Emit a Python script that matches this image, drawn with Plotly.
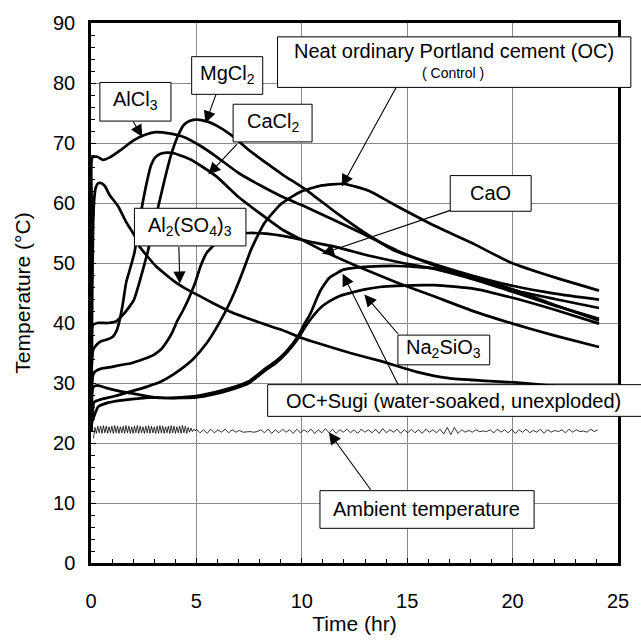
import numpy as np
import plotly.graph_objects as go

# ---------------- data ----------------
alcl3_t = [0.0, 0.03, 0.06, 0.3, 0.55, 0.9, 1.4, 2.0, 2.6, 3.07, 3.7, 4.4, 5.2, 5.96, 7.0, 8.0, 9.1, 10.1, 11.5, 13.0, 14.5, 16.3, 18.2, 20.0, 22.0, 24.1]
alcl3_T = [22.0, 60.0, 67.6, 67.7, 67.2, 67.6, 68.8, 70.4, 71.4, 71.8, 71.6, 71.0, 69.5, 67.7, 65.0, 63.0, 61.0, 59.5, 57.2, 54.7, 52.1, 49.6, 47.3, 45.5, 44.0, 42.5]

mgcl2_t = [0.0, 0.04, 0.08, 0.3, 0.8, 1.2, 1.5, 1.8, 2.03, 2.3, 2.68, 3.0, 3.23, 3.5, 3.78, 4.1, 4.4, 4.7, 5.02, 5.5, 5.96, 6.74, 7.5, 8.46, 9.1, 10.2, 11.66, 13.0, 14.5, 16.3, 18.2, 20.0, 22.0, 24.1]
mgcl2_T = [22.0, 36.0, 39.6, 40.0, 40.0, 40.3, 41.3, 42.6, 43.8, 46.8, 51.7, 56.5, 60.0, 64.0, 67.8, 71.0, 73.0, 73.7, 73.9, 73.6, 72.9, 71.1, 68.8, 66.3, 64.7, 62.2, 58.3, 55.0, 51.9, 49.8, 47.8, 46.2, 44.9, 43.9]

cacl2_t = [0.0, 0.04, 0.1, 0.3, 0.5, 0.8, 1.03, 1.2, 1.34, 1.5, 1.67, 1.85, 2.06, 2.25, 2.45, 2.65, 2.84, 3.05, 3.3, 3.6, 3.93, 4.7, 5.3, 5.96, 7.0, 8.0, 9.1, 10.1, 11.2, 12.8, 14.47, 16.3, 18.2, 20.0, 22.0, 24.1]
cacl2_T = [22.0, 33.0, 35.5, 36.5, 37.0, 37.3, 37.7, 38.6, 40.2, 43.0, 46.8, 49.0, 51.7, 56.0, 60.0, 63.5, 66.2, 67.6, 68.2, 68.4, 68.3, 67.3, 66.0, 64.4, 61.0, 58.3, 55.5, 53.7, 51.7, 49.2, 46.8, 44.4, 41.9, 39.9, 37.9, 36.0]

cao_t = [0.0, 0.04, 0.1, 0.2, 0.48, 1.0, 1.42, 1.9, 2.5, 2.98, 3.35, 3.6, 3.85, 4.07, 4.35, 4.6, 4.95, 5.2, 5.49, 5.96, 6.4, 6.74, 7.5, 8.3, 9.3, 10.6, 11.7, 13.2, 14.5, 16.3, 18.2, 20.0, 22.0, 24.1]
cao_T = [22.0, 29.0, 31.3, 31.9, 32.4, 32.7, 33.0, 33.3, 34.0, 34.7, 35.7, 36.9, 38.4, 40.2, 42.0, 43.8, 46.8, 49.5, 51.7, 53.4, 54.3, 54.8, 55.0, 54.9, 54.4, 53.4, 52.6, 51.2, 50.2, 49.0, 47.2, 45.2, 42.9, 40.7]

al2so43_t = [0.0, 0.06, 0.1, 0.15, 0.22, 0.34, 0.5, 0.66, 0.89, 1.28, 1.67, 2.06, 2.29, 2.7, 3.07, 3.5, 4.0, 4.5, 5.1, 5.8, 6.67, 7.9, 9.0, 10.0, 10.7, 12.3, 13.8, 15.4, 16.96, 18.5, 20.1, 22.0, 24.1]
al2so43_T = [22.0, 45.0, 56.0, 60.5, 62.5, 63.3, 63.3, 62.8, 61.3, 59.5, 56.8, 54.6, 52.8, 51.0, 49.5, 48.2, 46.8, 45.7, 44.6, 43.3, 41.8, 40.2, 38.9, 37.5, 36.7, 35.0, 33.6, 31.9, 30.8, 30.4, 30.1, 29.5, 29.0]

oc_t = [0.0, 0.05, 0.15, 0.5, 1.1, 1.9, 2.67, 3.3, 3.76, 4.3, 4.85, 5.5, 6.1, 6.6, 6.97, 7.3, 7.6, 8.2, 9.0, 9.9, 10.9, 12.0, 13.2, 14.5, 16.3, 18.2, 19.9, 22.0, 24.1]
oc_T = [22.0, 24.0, 26.8, 27.3, 27.8, 28.6, 29.4, 30.2, 31.1, 32.4, 34.0, 36.7, 40.1, 43.5, 46.5, 49.5, 52.3, 56.5, 59.8, 61.8, 62.9, 63.2, 62.0, 59.5, 56.2, 53.1, 50.1, 47.6, 45.4]

sugi_t = [0.0, 0.04, 0.1, 0.3, 0.8, 1.4, 1.9, 2.5, 2.98, 3.6, 4.3, 5.0, 5.8, 6.57, 7.5, 8.3, 8.76, 9.3, 9.86, 10.1, 10.4, 10.7, 10.9, 11.3, 11.66, 11.97, 12.5, 13.2, 14.5, 16.3, 18.2, 20.0, 22.0, 24.1]
sugi_T = [22.0, 27.0, 29.3, 29.6, 29.1, 28.6, 28.3, 27.9, 27.6, 27.5, 27.6, 27.8, 28.4, 29.1, 30.3, 32.5, 33.6, 35.4, 38.0, 39.7, 41.5, 44.0, 45.5, 47.5, 48.3, 48.9, 49.2, 49.4, 49.5, 49.1, 47.6, 45.6, 43.0, 40.4]

na2sio3_t = [0.0, 0.05, 0.15, 0.33, 0.7, 1.42, 2.2, 2.98, 3.6, 4.3, 5.0, 5.8, 6.57, 7.5, 8.3, 8.77, 9.3, 9.86, 10.1, 10.5, 10.9, 11.3, 11.8, 12.4, 13.0, 13.7, 14.5, 16.3, 18.2, 20.0, 22.0, 24.1]
na2sio3_T = [22.0, 23.5, 24.5, 26.0, 26.6, 27.1, 27.4, 27.6, 27.5, 27.5, 27.6, 28.1, 28.8, 30.0, 32.2, 33.3, 35.1, 37.6, 39.0, 41.0, 42.6, 43.6, 44.5, 45.1, 45.6, 46.0, 46.2, 46.3, 45.7, 44.2, 42.2, 39.9]

# ambient temperature: dense logging (from 0.12 h, every 0.067 h) then sparse (from 5.0 h, every 0.17 h)
amb_dense_start, amb_dense_step = 0.12, 0.067
amb_dense_T = [20.8, 22.6, 21.6, 22.8, 21.7, 22.8, 21.6, 22.9, 21.7, 22.8,
               21.6, 22.7, 21.7, 22.8, 21.6, 22.9, 21.7, 22.8, 21.6, 22.7,
               21.7, 22.8, 21.6, 22.9, 21.7, 22.8, 21.6, 22.7, 21.6, 22.8,
               21.7, 22.9, 21.6, 22.8, 21.7, 22.7, 21.6, 22.8, 21.7, 22.9,
               21.6, 22.8, 21.7, 22.7, 21.6, 22.8, 21.6, 22.9, 21.7, 22.8,
               21.6, 22.7, 21.7, 22.8, 21.6, 22.9, 21.7, 22.8, 21.6, 22.7,
               21.7, 22.8, 21.6, 22.9, 21.7, 22.8, 21.6, 22.6, 21.8, 22.5,
               21.9, 22.3, 22.0]
amb_sparse_start, amb_sparse_step = 5.0, 0.17
amb_sparse_T = [22.3, 21.7, 22.2, 21.6, 22.3, 21.7, 22.2, 21.8, 22.3, 21.7,
                22.2, 21.8, 22.1, 21.8, 21.9, 21.9, 21.8, 21.9, 22.2, 21.7,
                22.3, 21.6, 22.2, 21.7, 22.3, 21.8, 22.2, 21.6, 22.3, 21.7,
                22.2, 21.8, 22.3, 21.6, 22.2, 21.7, 22.4, 21.7, 22.3, 21.6,
                22.2, 21.8, 22.3, 21.7, 22.2, 21.6, 22.3, 21.8, 22.2, 21.7,
                22.3, 21.6, 22.4, 21.7, 22.2, 21.8, 22.3, 21.6, 22.2, 21.7,
                22.3, 21.7, 22.2, 21.6, 22.3, 21.8, 22.2, 21.7, 22.3, 21.5,
                22.6, 21.4, 22.6, 21.6, 22.2, 21.8, 22.1, 21.8, 22.2, 21.9,
                22.0, 21.9, 22.2, 21.7, 22.3, 21.8, 22.2, 21.7, 22.3, 21.6,
                22.2, 21.8, 22.3, 21.7, 22.1, 21.8, 22.3, 21.6, 22.2, 21.8,
                22.1, 21.9, 22.2, 21.7, 22.3, 21.8, 22.2, 21.9, 22.0, 21.8,
                22.3, 21.9, 22.2]

x_ticks = [0, 5, 10, 15, 20, 25]
y_ticks = [0, 10, 20, 30, 40, 50, 60, 70, 80, 90]

# ---------------- figure ----------------
W, H = 641, 641
ML, MR, MT, MB = 91, 16, 18, 78
PW, PH = W - ML - MR, H - MT - MB
FONT = "Liberation Sans, Arial, sans-serif"

def px2paper(px, py):
    return (px - ML) / PW, (H - MB - py) / PH

fig = go.Figure()

thick = dict(color="black", width=2.7, shape="spline", smoothing=0.5)
for t, T in [(alcl3_t, alcl3_T), (mgcl2_t, mgcl2_T), (cacl2_t, cacl2_T), (cao_t, cao_T),
             (al2so43_t, al2so43_T), (oc_t, oc_T), (sugi_t, sugi_T), (na2sio3_t, na2sio3_T)]:
    fig.add_trace(go.Scatter(x=t, y=T, mode="lines", line=thick, hoverinfo="skip"))

amb_t = list(amb_dense_start + amb_dense_step * np.arange(len(amb_dense_T))) + \
        list(amb_sparse_start + amb_sparse_step * np.arange(len(amb_sparse_T)))
amb_T = amb_dense_T + amb_sparse_T
fig.add_trace(go.Scatter(x=amb_t, y=amb_T, mode="lines", line=dict(color="black", width=0.8), hoverinfo="skip"))

# label boxes (pixel rectangles) -> paper coords
boxes = [
    (100, 78, 172, 117),    # AlCl3
    (193, 52, 265, 90),     # MgCl2
    (235, 100, 315, 138),   # CaCl2
    (280, 32, 638, 83),     # Neat OC
    (455, 172, 537, 208),   # CaO
    (135, 205, 248, 243),   # Al2(SO4)3
    (402, 333, 495, 363),   # Na2SiO3
    (270, 383, 660, 415),   # OC+Sugi
    (323, 490, 540, 528),   # Ambient
]
shapes = []
for x0, y0, x1, y1 in boxes:
    a0, b0 = px2paper(x0, y1)
    a1, b1 = px2paper(x1, y0)
    shapes.append(dict(type="rect", xref="paper", yref="paper", x0=a0, y0=b0, x1=a1, y1=b1,
                       line=dict(color="black", width=1), fillcolor="white", layer="above"))

texts = [
    ("AlCl<sub>3</sub>", 136, 96, 20),
    ("MgCl<sub>2</sub>", 229, 70, 20),
    ("CaCl<sub>2</sub>", 275, 118, 20),
    ("Neat ordinary Portland cement (OC)", 459, 46, 20),
    ("( Control )", 458, 68, 14),
    ("CaO", 496, 190, 20),
    ("Al<sub>2</sub>(SO<sub>4</sub>)<sub>3</sub>", 191, 223, 20),
    ("Na<sub>2</sub>SiO<sub>3</sub>", 448, 347, 20),
    ("OC+Sugi (water-soaked, unexploded)", 458, 399, 20),
    ("Ambient temperature", 431, 509, 20),
]
annotations = []
for txt, px, py, fs in texts:
    xp, yp = px2paper(px, py)
    annotations.append(dict(text=txt, x=xp, y=yp, xref="paper", yref="paper", showarrow=False,
                            xanchor="center", yanchor="middle", font=dict(family=FONT, size=fs, color="black")))

arrows = [  # (start px, start py, tip px, tip py)
    (133, 116, 143, 133),
    (218, 89, 207, 119),
    (240, 139, 210, 171),
    (400, 83, 345, 183),
    (455, 207, 325, 251),
    (180, 243, 181, 281),
    (403, 333, 368, 292),
    (402, 383, 346, 271),
    (375, 490, 332, 431),
]
for sx, sy, tx, ty in arrows:
    xp, yp = px2paper(tx, ty)
    annotations.append(dict(text="", x=xp, y=yp, xref="paper", yref="paper", showarrow=True,
                            ax=sx - tx, ay=sy - ty, axref="pixel", ayref="pixel",
                            arrowhead=2, arrowsize=2.2, arrowwidth=1.1, arrowcolor="black",
                            standoff=0, startstandoff=0))

axis_common = dict(showgrid=True, gridcolor="#8a8a8a", gridwidth=1, zeroline=False,
                   showline=True, linecolor="black", linewidth=2.5, mirror=True,
                   ticks="inside", ticklen=5, tickcolor="black", tickwidth=1,
                   tickfont=dict(family=FONT, size=20, color="black"))

fig.update_layout(
    width=W, height=H, margin=dict(l=ML, r=MR, t=MT, b=MB),
    paper_bgcolor="white", plot_bgcolor="white", showlegend=False,
    shapes=shapes, annotations=annotations,
    xaxis=dict(range=[0, 25], tickvals=x_ticks, ticktext=[str(v) for v in x_ticks],
               minor=dict(dtick=1, ticks="inside", ticklen=4, tickcolor="black", showgrid=False),
               ticklabelstandoff=18,
               title=dict(text="Time (hr)", font=dict(family=FONT, size=21, color="black"), standoff=3),
               **axis_common),
    yaxis=dict(range=[0, 90], tickvals=y_ticks, ticktext=[str(v) for v in y_ticks],
               minor=dict(dtick=2, ticks="inside", ticklen=4, tickcolor="black", showgrid=False),
               ticklabelstandoff=9,
               title=dict(text="Temperature (°C)", font=dict(family=FONT, size=21, color="black"), standoff=17),
               **axis_common),
)

fig.write_html("out.html")
